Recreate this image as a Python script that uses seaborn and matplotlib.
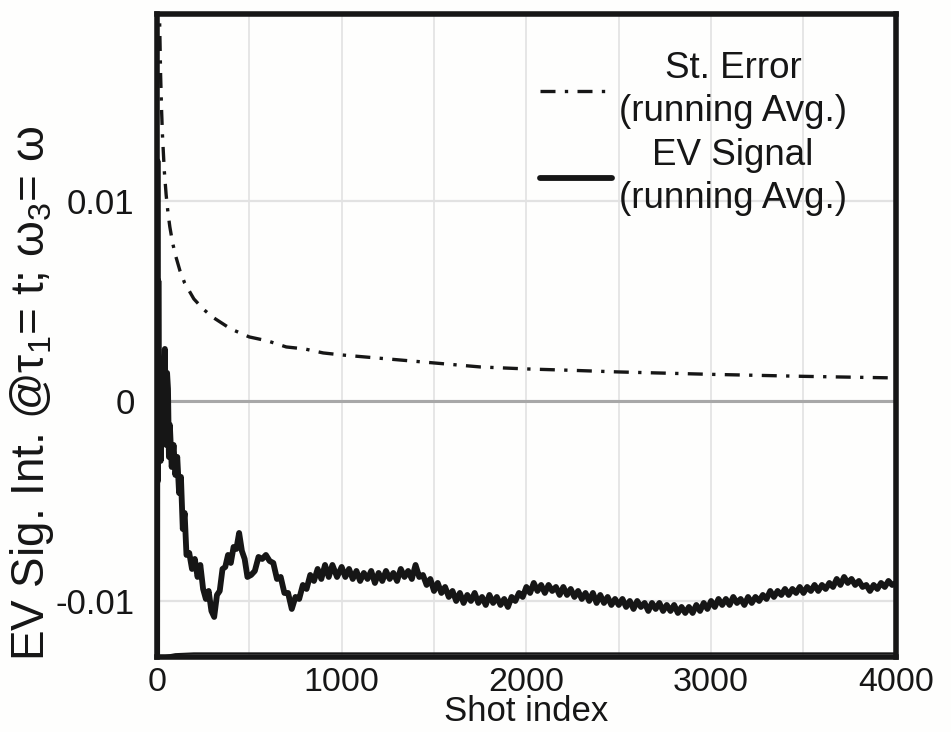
import matplotlib
matplotlib.use("Agg")
import matplotlib.pyplot as plt
import seaborn as sns
import pandas as pd
from matplotlib.ticker import FixedLocator, MultipleLocator

# ---- data ----
se_shots = [2, 5, 10, 15, 20, 25, 30, 40, 50, 60, 70, 85, 100, 125, 150, 175, 200, 250, 300, 350,
            400, 450, 500, 600, 700, 800, 900, 1000, 1250, 1500, 1750, 2000, 2250, 2500, 2750,
            3000, 3250, 3500, 3750, 4000]
se_values = [0.051, 0.0325, 0.0230, 0.0188, 0.0163, 0.0146, 0.0133, 0.0115, 0.0103, 0.0094,
             0.0087, 0.0079, 0.0073, 0.0065, 0.0059, 0.0055, 0.0051, 0.0046, 0.0042, 0.0039,
             0.0036, 0.0034, 0.0032, 0.0030, 0.0027, 0.0026, 0.0024, 0.0023, 0.0021, 0.0019,
             0.0017, 0.0016, 0.00153, 0.00145, 0.00139, 0.00133, 0.00128, 0.00123, 0.00119, 0.00115]

ev_shots_early = [1, 3, 5, 8, 12, 16, 20, 25, 30, 35, 40, 43, 47, 50, 55, 60, 65, 70, 80, 90, 100,
                  110, 120, 130, 140, 150, 160, 175, 190, 205, 220, 235, 250, 265, 280, 295, 310,
                  325, 340, 355, 370, 385, 400, 415, 430, 445, 460, 475, 490, 510, 530, 550, 570,
                  590, 610, 630, 650, 670, 690, 710, 730, 750, 770, 790, 810, 830, 850, 870, 890,
                  910, 930, 950, 975]
ev_values_early = [-0.0160, 0.0120, -0.0040, 0.0060, -0.0020, 0.0010, -0.0030, -0.0005, -0.0020,
                   0.0005, 0.0015, 0.0026, -0.0005, -0.0022, 0.0014, 0.0006, -0.0028, -0.0012,
                   -0.0033, -0.0022, -0.0037, -0.0028, -0.0046, -0.0038, -0.0064, -0.0056,
                   -0.0077, -0.0076, -0.0084, -0.0079, -0.0088, -0.0082, -0.0094, -0.0099,
                   -0.0095, -0.0105, -0.0108, -0.0097, -0.0095, -0.0084, -0.0083, -0.0077,
                   -0.0081, -0.0073, -0.0074, -0.0066, -0.0075, -0.0079, -0.0088, -0.0087,
                   -0.0085, -0.0078, -0.0079, -0.0077, -0.0080, -0.0081, -0.0089, -0.0088,
                   -0.0096, -0.0096, -0.0104, -0.0098, -0.0099, -0.0092, -0.0094, -0.0087,
                   -0.0090, -0.0084, -0.0089, -0.0082, -0.0088, -0.0082, -0.0088]

# later part, sampled every 20 shots from 1000 to 4000
ev_shots_late = list(range(1000, 4001, 20))
ev_values_late = [
    -0.0083, -0.0088, -0.0084, -0.0089, -0.0085, -0.0090, -0.0086, -0.0089, -0.0085, -0.0091,
    -0.0086, -0.0090, -0.0085, -0.0089, -0.0086, -0.0090, -0.0084, -0.0088, -0.0085, -0.0089,
    -0.0082, -0.0088, -0.0087, -0.0092, -0.0089, -0.0095, -0.0091, -0.0096, -0.0093, -0.0098,
    -0.0095, -0.0100, -0.0096, -0.0101, -0.0097, -0.0100, -0.0096, -0.0101, -0.0098, -0.0102,
    -0.0097, -0.0101, -0.0098, -0.0102, -0.0099, -0.0103, -0.0098, -0.0100, -0.0096, -0.0098,
    -0.0093, -0.0096, -0.0091, -0.0095, -0.0092, -0.0096, -0.0092, -0.0095, -0.0093, -0.0097,
    -0.0093, -0.0097, -0.0094, -0.0098, -0.0095, -0.0099, -0.0096, -0.0100, -0.0096, -0.0101,
    -0.0097, -0.0101, -0.0098, -0.0102, -0.0099, -0.0102, -0.0099, -0.0103, -0.0100, -0.0104,
    -0.0100, -0.0103, -0.0101, -0.0105, -0.0101, -0.0104, -0.0101, -0.0105, -0.0102, -0.0105,
    -0.0102, -0.0106, -0.0103, -0.0106, -0.0103, -0.0106, -0.0102, -0.0105, -0.0101, -0.0104,
    -0.0100, -0.0103, -0.0099, -0.0102, -0.0099, -0.0102, -0.0098, -0.0101, -0.0099, -0.0102,
    -0.0098, -0.0101, -0.0098, -0.0100, -0.0097, -0.0099, -0.0095, -0.0098, -0.0095, -0.0097,
    -0.0094, -0.0097, -0.0094, -0.0096, -0.0093, -0.0096, -0.0093, -0.0095, -0.0092, -0.0095,
    -0.0092, -0.0094, -0.0091, -0.0093, -0.0089, -0.0092, -0.0088, -0.0091, -0.0089, -0.0092,
    -0.0090, -0.0093, -0.0092, -0.0095, -0.0092, -0.0094, -0.0091, -0.0093, -0.0090, -0.0092,
    -0.0091]

base_shots = [0, 30, 100, 200, 4000]
base_values = [-0.0131, -0.01278, -0.01266, -0.01262, -0.01262]

x_ticks = [0, 1000, 2000, 3000, 4000]
y_ticks = [-0.01, 0, 0.01]
y_tick_labels = ["-0.01", "0", "0.01"]
legend_labels = ["St. Error\n(running Avg.)", "EV Signal\n(running Avg.)"]

# ---- style ----
sns.set_style("white")
plt.rcParams["font.family"] = ["Liberation Sans", "DejaVu Sans"]
plt.rcParams["mathtext.fontset"] = "custom"
plt.rcParams["mathtext.rm"] = "Liberation Sans"
plt.rcParams["mathtext.it"] = "Liberation Sans"
plt.rcParams["axes.unicode_minus"] = False

INK = "#161616"
fig = plt.figure(figsize=(9.51, 7.32), dpi=100)
fig.patch.set_facecolor("#fefefd")
ax = fig.add_axes([0.165, 0.1025, 0.777, 0.8785])
ax.set_facecolor("#fefefd")

se_df = pd.DataFrame({"shot": se_shots, "value": se_values})
ev_df = pd.DataFrame({"shot": ev_shots_early + ev_shots_late,
                      "value": ev_values_early + ev_values_late})
base_df = pd.DataFrame({"shot": base_shots, "value": base_values})

ax.axhline(0, color="#a8a8a8", lw=2.2, zorder=1)

sns.lineplot(data=se_df, x="shot", y="value", ax=ax, color=INK, lw=2.4,
             linestyle=(0, (4.5, 2.8, 1.0, 2.8)), label=legend_labels[0], zorder=3)
sns.lineplot(data=ev_df, x="shot", y="value", ax=ax, color=INK, lw=4.2,
             label=legend_labels[1], zorder=3)
sns.lineplot(data=base_df, x="shot", y="value", ax=ax, color=INK, lw=1.5, zorder=3)

ax.set_xlim(0, 4000)
ax.set_ylim(-0.0128, 0.01935)
ax.xaxis.set_major_locator(FixedLocator(x_ticks))
ax.xaxis.set_minor_locator(MultipleLocator(500))
ax.yaxis.set_major_locator(FixedLocator(y_ticks))
ax.set_yticklabels(y_tick_labels)
ax.yaxis.set_minor_locator(FixedLocator([-0.005, 0.005, 0.015]))

ax.grid(True, which="both", axis="x", color="#e2e2e2", lw=1.2, zorder=0)
ax.grid(True, which="major", axis="y", color="#e2e2e2", lw=1.6, zorder=0)
ax.set_axisbelow(True)

ax.tick_params(axis="both", which="major", labelsize=25, direction="in", length=6,
               width=1.2, color="#555555", labelcolor=INK)
ax.tick_params(axis="x", which="major", labelsize=24.5, pad=7)
ax.tick_params(axis="y", which="major", pad=16)
ax.tick_params(axis="both", which="minor", direction="in", length=5, width=1.0,
               color="#555555")
for s in ax.spines.values():
    s.set_linewidth(4)
    s.set_color(INK)

ax.set_xlabel("Shot index", fontsize=25, labelpad=-2, color=INK)
ax.set_ylabel("EV Sig. Int. @τ$_1$= t; ω$_3$= ω", fontsize=33, color=INK)
ax.yaxis.set_label_coords(-0.137, 0.41)

leg = ax.legend(loc="upper right", bbox_to_anchor=(847 / 951, 1 - 51 / 732),
                bbox_transform=fig.transFigure, frameon=False, borderpad=0, borderaxespad=0,
                fontsize=26.5, handlelength=1.95, handletextpad=0.2, labelspacing=0.25)
for t in leg.get_texts():
    t.set_multialignment("center")
    t.set_linespacing(1.3)
    t.set_color(INK)

fig.savefig("out.png", dpi=100, facecolor=fig.get_facecolor())
